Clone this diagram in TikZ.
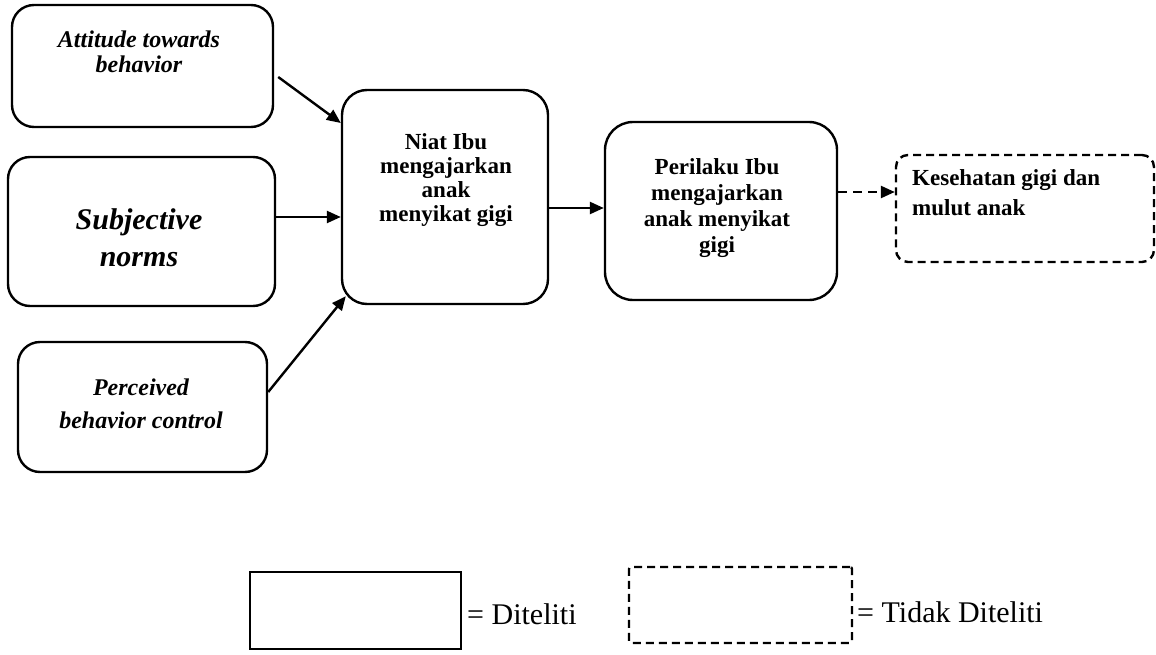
\documentclass[tikz,border=0pt]{standalone}
\usepackage{fontspec}
\setmainfont{Liberation Serif}
\usetikzlibrary{arrows.meta}
\begin{document}
\begin{tikzpicture}[x=1pt,y=-1pt,
  box/.style={draw, line width=2.4pt, rounded corners=22pt, inner sep=0pt},
  dbox/.style={draw, line width=2.4pt, dash pattern=on 8pt off 5pt, inner sep=0pt},
  ital/.style={font=\bfseries\itshape\fontsize{24}{25}\selectfont, align=center, inner sep=0pt},
  upr/.style={font=\bfseries\fontsize{23}{24}\selectfont, align=center, inner sep=0pt},
  legtxt/.style={font=\fontsize{30}{32}\selectfont, anchor=west, inner sep=0pt},
  arr/.style={line width=2.4pt, -{Triangle[length=14pt,width=12pt]}},
]
\path[use as bounding box, fill=white] (0,0) rectangle (1156,655);

% three determinants on the left
\node[box, minimum width=261pt, minimum height=122pt] (A) at (142.5,66) {};
\node[ital] (At) at (139,52) {Attitude towards\\behavior};

\node[box, minimum width=267pt, minimum height=149pt] (S) at (141.5,231.5) {};
\node[ital, font=\bfseries\itshape\fontsize{30}{37}\selectfont] (St) at (139,238) {Subjective\\norms};

\node[box, minimum width=249pt, minimum height=130pt] (P) at (142.5,407) {};
\node[ital, font=\bfseries\itshape\fontsize{24}{33}\selectfont] (Pt) at (141,404) {Perceived\\behavior control};

% intention and behaviour
\node[box, rounded corners=25pt, minimum width=206pt, minimum height=214pt] (N) at (445,197) {};
\node[upr] (Nt) at (446,180) {Niat Ibu\\mengajarkan\\anak\\menyikat gigi};

\node[box, rounded corners=28pt, minimum width=232pt, minimum height=178pt] (R) at (721,211) {};
\node[upr, font=\bfseries\fontsize{23}{26}\selectfont] (Rt) at (717,208) {Perilaku Ibu\\mengajarkan\\anak menyikat\\gigi};

% outcome (not studied)
\node[dbox, rounded corners=12pt, minimum width=258pt, minimum height=107pt] (K) at (1025,208.5) {};
\node[upr, align=left, anchor=west, font=\bfseries\fontsize{23}{30}\selectfont] (Kt) at (912,193) {Kesehatan gigi dan\\mulut anak};

% connectors
\draw[arr] ([shift={(4,11)}]A.east) -- ([shift={(0,-74)}]N.west);
\draw[arr] ([shift={(0,-14.5)}]S.east) -- ([shift={(0,20)}]N.west);
\draw[arr] ([shift={(0,-15)}]P.east) -- ([shift={(5,-9)}]N.south west);
\draw[arr] ([shift={(0,11)}]N.east) -- ([shift={(0,-3)}]R.west);
\draw[arr, dash pattern=on 9pt off 6pt] ([shift={(0,-19)}]R.east) -- ([shift={(0,-16.5)}]K.west);

% legend
\node[draw, line width=2.4pt, minimum width=211pt, minimum height=77pt, inner sep=0pt] (L1) at (355.5,610.5) {};
\node[legtxt] (L1t) at (467,614) {= Diteliti};
\node[dbox, rounded corners=2pt, minimum width=223pt, minimum height=76pt] (L2) at (740.5,605) {};
\node[legtxt] (L2t) at (857,612) {= Tidak Diteliti};
\end{tikzpicture}
\end{document}
